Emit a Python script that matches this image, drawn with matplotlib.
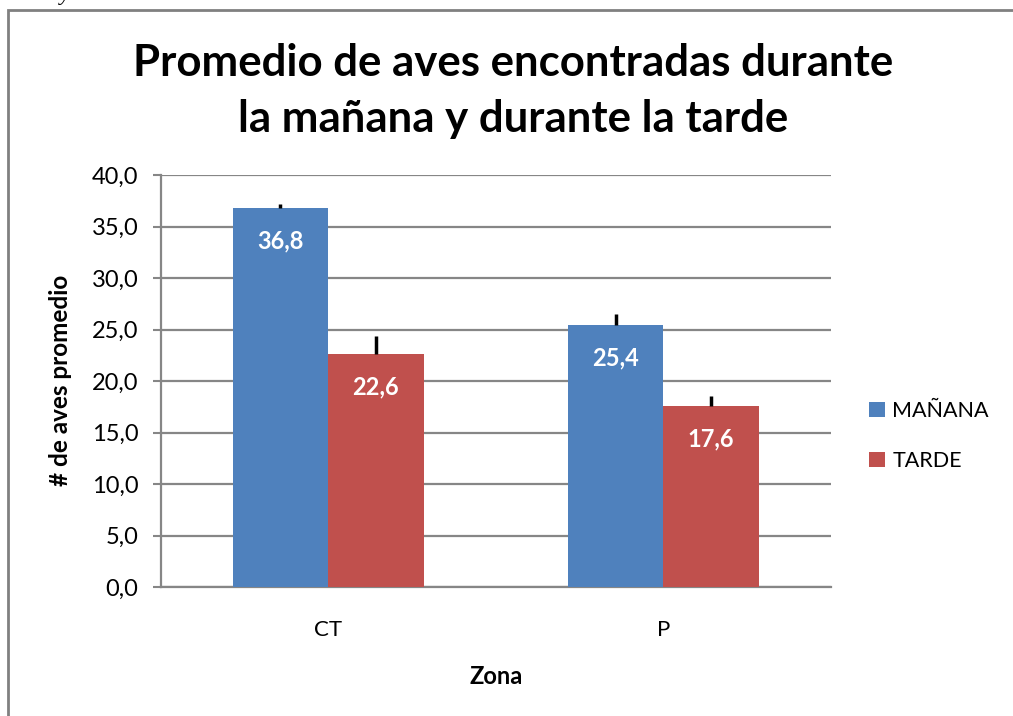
import matplotlib
matplotlib.use("Agg")
import matplotlib.pyplot as plt
from matplotlib.patches import Rectangle
import numpy as np

categories = ["CT", "P"]
series_names = ["MAÑANA", "TARDE"]
manana = [36.8, 25.4]
tarde = [22.6, 17.6]
manana_err = [0.4, 1.1]
tarde_err = [1.8, 0.9]
yticks = [0, 5, 10, 15, 20, 25, 30, 35, 40]

FONT = "Lato"
BLUE = "#4F81BD"
RED = "#C0504D"
GRID = "#868686"

fig = plt.figure(figsize=(10.13, 7.16), dpi=100)
W, H = 1013, 716
ax = fig.add_axes([160.5 / W, (H - 587) / H, (831 - 160.5) / W, (587 - 175) / H])

x = np.arange(len(categories))
bw = 0.285
vals = [manana, tarde]
errs = [manana_err, tarde_err]
colors = [BLUE, RED]
for i, (v, e, c, name) in enumerate(zip(vals, errs, colors, series_names)):
    pos = x + (i - 0.5) * bw
    ax.bar(pos, v, width=bw, color=c, label=name, zorder=3)
    ax.errorbar(pos, v, yerr=[np.zeros(len(e)), e], fmt="none", ecolor="black",
                elinewidth=2.5, capsize=0, zorder=4)
    for xb, yb in zip(pos, v):
        ax.annotate(f"{yb:.1f}".replace(".", ","), (xb, yb), xytext=(0, -33),
                    textcoords="offset pixels", ha="center", va="center",
                    color="white", fontsize=17, fontweight="bold", family=FONT, zorder=5)

ax.set_xlim(-0.5, 1.5)
ax.set_ylim(0, 40)
ax.set_yticks(yticks)
ax.set_yticklabels([f"{t:.1f}".replace(".", ",") for t in yticks], family=FONT, fontsize=17)
ax.set_xticks(x)
ax.set_xticklabels(categories, family=FONT, fontsize=16)
ax.tick_params(axis="x", length=0, pad=24)
ax.tick_params(axis="y", length=6, width=1.5, color=GRID, pad=10)
ax.yaxis.grid(True, color=GRID, linewidth=1.6, zorder=0)
ax.set_axisbelow(True)
for s in ["top", "right"]:
    ax.spines[s].set_visible(False)
for s in ["left", "bottom"]:
    ax.spines[s].set_color(GRID)
    ax.spines[s].set_linewidth(1.6)

fig.text(60 / W, 1 - 380 / H, "# de aves promedio", rotation=90, ha="center", va="center",
         family=FONT, fontsize=17.5, fontweight="bold")
fig.text(496 / W, 1 - 677 / H, "Zona", ha="center", va="center",
         family=FONT, fontsize=17, fontweight="bold")
fig.text(513 / W, 1 - 91 / H, "Promedio de aves encontradas durante\nla mañana y durante la tarde",
         ha="center", va="center", family=FONT, fontsize=31.5, fontweight="bold", linespacing=1.5)

fig.legend(loc="center left", bbox_to_anchor=(860 / W, 1 - 436 / H), frameon=False,
           prop={"family": FONT, "size": 15.5}, handlelength=0.75, handleheight=0.75,
           handletextpad=0.35, labelspacing=1.4, borderaxespad=0)

fig.patches.append(Rectangle((8 / W, -0.05), 1.2, 1 - 10 / H + 0.05, transform=fig.transFigure,
                             fill=False, edgecolor="#808080", linewidth=2))
fig.text(60 / W, 1.0, "y", va="baseline", ha="left", family="Liberation Serif",
         fontsize=16, style="italic")

fig.savefig("out.png", dpi=100)
